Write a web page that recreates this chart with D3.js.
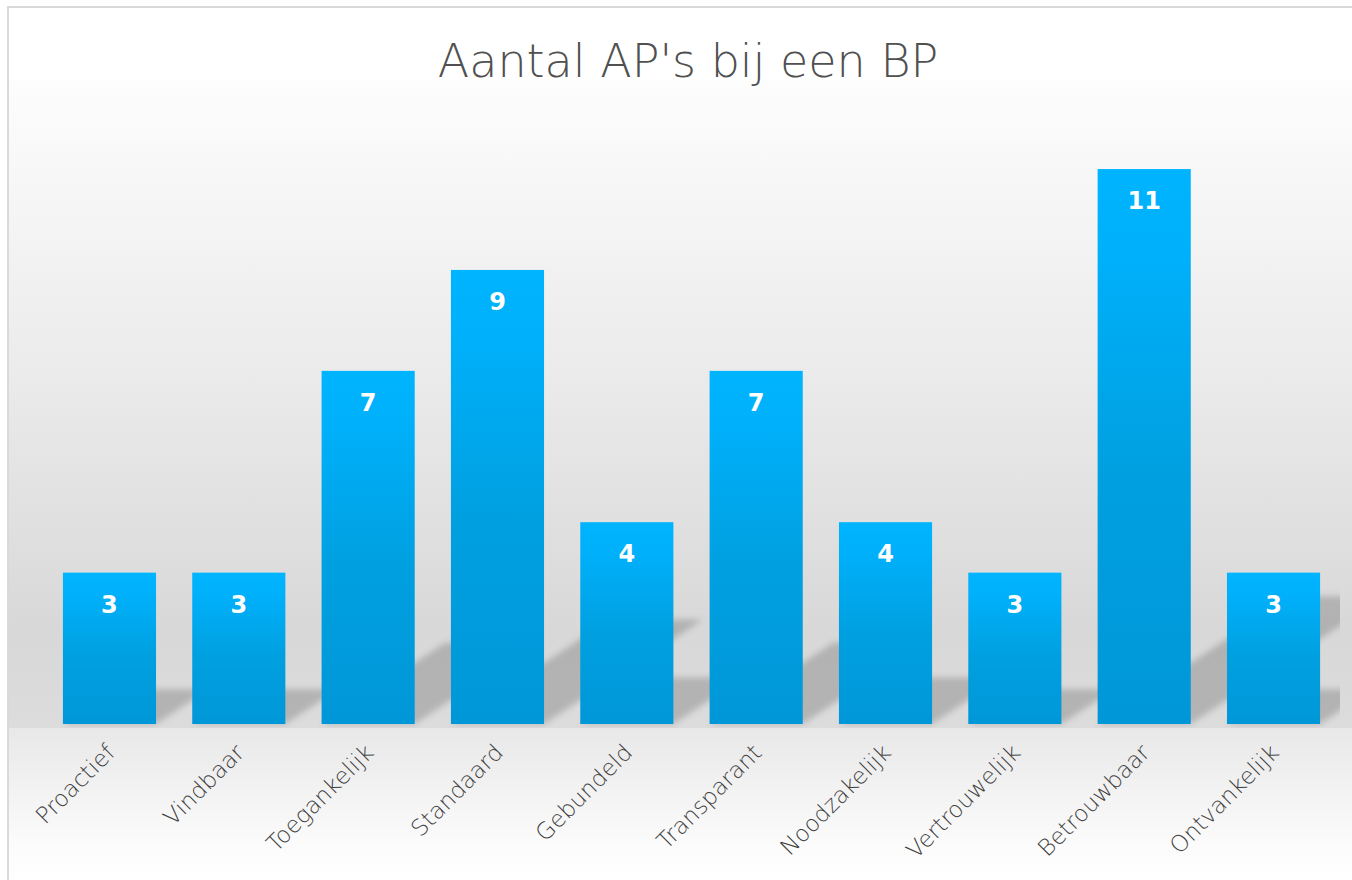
<!DOCTYPE html>
<html>
<head>
<meta charset="utf-8">
<script src="https://cdn.jsdelivr.net/npm/d3@7"></script>
<style>
  html, body { margin: 0; padding: 0; background: #fff; }
  svg { display: block; }
  .title { font-family: "DejaVu Sans", "Noto Sans", sans-serif; font-weight: 200; fill: #505050; }
  .cat { font-family: "DejaVu Sans", "Noto Sans", sans-serif; font-weight: 200; fill: #3f3f3f; }
  .val { font-family: "DejaVu Sans", "Noto Sans", sans-serif; font-weight: bold; fill: #fff; }
</style>
</head>
<body>
<div id="chart"></div>
<script>
// Bar chart with perspective shadows behind each bar (Office-style).
const categories = ["Proactief", "Vindbaar", "Toegankelijk", "Standaard", "Gebundeld",
  "Transparant", "Noodzakelijk", "Vertrouwelijk", "Betrouwbaar", "Ontvankelijk"];
const values = [3, 3, 7, 9, 4, 7, 4, 3, 11, 3];
const yDomain = [0, 12];
const chartTitle = "Aantal AP's bij een BP";

const W = 1352, H = 880;
const base = 724, plotTop = 80, plotBottom = 728;

const svg = d3.select("#chart").append("svg").attr("width", W).attr("height", H);
const defs = svg.append("defs");

// backgrounds
const gPlot = defs.append("linearGradient").attr("id", "bg-plot").attr("x1", 0).attr("x2", 0).attr("y1", 0).attr("y2", 1);
gPlot.append("stop").attr("offset", "0%").attr("stop-color", "#fdfdfd");
gPlot.append("stop").attr("offset", "45%").attr("stop-color", "#ebebeb");
gPlot.append("stop").attr("offset", "85%").attr("stop-color", "#d8d8d8");
gPlot.append("stop").attr("offset", "100%").attr("stop-color", "#dcdcdc");
const gLow = defs.append("linearGradient").attr("id", "bg-low").attr("x1", 0).attr("x2", 0).attr("y1", 0).attr("y2", 1);
gLow.append("stop").attr("offset", "0%").attr("stop-color", "#e8e8e8");
gLow.append("stop").attr("offset", "75%").attr("stop-color", "#fbfbfb");
gLow.append("stop").attr("offset", "100%").attr("stop-color", "#ffffff");

const gBar = defs.append("linearGradient").attr("id", "bar-fill").attr("x1", 0).attr("x2", 0).attr("y1", 0).attr("y2", 1);
gBar.append("stop").attr("offset", "0%").attr("stop-color", "#00b4ff");
gBar.append("stop").attr("offset", "15%").attr("stop-color", "#00b0fa");
gBar.append("stop").attr("offset", "55%").attr("stop-color", "#00a0e0");
gBar.append("stop").attr("offset", "100%").attr("stop-color", "#0097d8");

defs.append("filter").attr("id", "blur").attr("x", "-20%").attr("y", "-20%").attr("width", "140%").attr("height", "140%")
  .append("feGaussianBlur").attr("stdDeviation", 3);
defs.append("clipPath").attr("id", "plot-clip").append("rect")
  .attr("x", 9).attr("y", plotTop).attr("width", 1340 - 9).attr("height", plotBottom - plotTop);

svg.append("rect").attr("x", 0).attr("y", 0).attr("width", W).attr("height", H).attr("fill", "#fff");
svg.append("rect").attr("x", 9).attr("y", plotTop).attr("width", W - 9).attr("height", plotBottom - plotTop).attr("fill", "url(#bg-plot)");
svg.append("rect").attr("x", 9).attr("y", plotBottom).attr("width", W - 9).attr("height", H - plotBottom).attr("fill", "url(#bg-low)");
// chart frame
svg.append("rect").attr("x", 8).attr("y", 7).attr("width", W + 20).attr("height", H + 20)
  .attr("fill", "none").attr("stroke", "#d9d9d9").attr("stroke-width", 2);

const x = d3.scaleBand().domain(categories).range([44.8, 1338.2]).paddingInner(0.28).paddingOuter(0.14);
const y = d3.scaleLinear().domain(yDomain).range([base, base - 12 * 50.45]);

// perspective shadows: bar flattened to 23% height, skewed to the right
const shadows = svg.append("g").attr("clip-path", "url(#plot-clip)")
  .append("g").attr("filter", "url(#blur)");
shadows.selectAll("path").data(categories).join("path")
  .attr("fill", "rgba(0,0,0,0.18)")
  .attr("d", (c, i) => {
    const xl = x(c), xr = xl + x.bandwidth();
    const h = y(0) - y(values[i]);
    const sh = 0.23 * h, sk = 0.35 * h;
    return `M${xl},${y(0)}L${xr},${y(0)}L${xr + sk},${y(0) - sh}L${xl + sk},${y(0) - sh}Z`;
  });

svg.append("g").selectAll("rect").data(categories).join("rect")
  .attr("x", (c) => x(c)).attr("width", x.bandwidth())
  .attr("y", (c, i) => y(values[i])).attr("height", (c, i) => y(0) - y(values[i]))
  .attr("fill", "url(#bar-fill)");

svg.append("g").selectAll("text").data(categories).join("text")
  .attr("class", "val").attr("text-anchor", "middle").attr("font-size", 24)
  .attr("x", (c) => x(c) + x.bandwidth() / 2)
  .attr("y", (c, i) => y(values[i]) + 40)
  .text((c, i) => values[i]);

// rotated category labels
svg.append("g").selectAll("text").data(categories).join("text")
  .attr("class", "cat").attr("text-anchor", "end").attr("font-size", 23)
  .attr("transform", (c) => `translate(${x(c) + x.bandwidth() / 2 + 7},${base + 30}) rotate(-45)`)
  .text((c) => c);

svg.append("text").attr("class", "title").attr("text-anchor", "middle").attr("font-size", 46)
  .attr("x", 688).attr("y", 77).text(chartTitle);
</script>
</body>
</html>
